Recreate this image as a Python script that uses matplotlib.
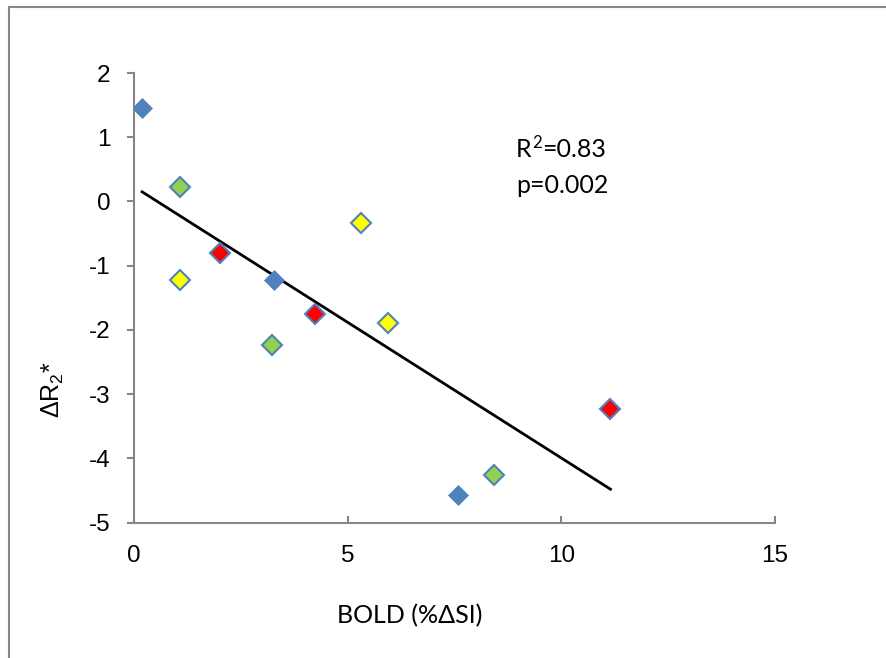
import numpy as np
import matplotlib
matplotlib.use("Agg")
import matplotlib.pyplot as plt
from matplotlib.lines import Line2D

# ---- data ----
blue_x = [0.19, 3.28, 7.59]
blue_y = [1.45, -1.23, -4.57]
green_x = [1.08, 3.23, 8.43]
green_y = [0.22, -2.23, -4.26]
yellow_x = [1.08, 5.32, 5.95]
yellow_y = [-1.23, -0.33, -1.90]
red_x = [2.01, 4.24, 11.15]
red_y = [-0.81, -1.75, -3.23]

x_ticks = [0, 5, 10, 15]
y_ticks = [-5, -4, -3, -2, -1, 0, 1, 2]
r2_text = ("R", "2", "=0.83")
p_text = "p=0.002"
x_label = "BOLD (%\u0394SI)"
y_label = "\u0394R$_2$*"

plt.rcParams['mathtext.fontset'] = 'custom'
plt.rcParams['mathtext.rm'] = 'Liberation Sans'
plt.rcParams['mathtext.it'] = 'Liberation Sans'
plt.rcParams['mathtext.bf'] = 'Liberation Sans'

W, H = 886, 658
fig = plt.figure(figsize=(W / 100, H / 100), dpi=100)
ax = fig.add_axes([134 / W, 1 - 522.5 / H, (775 - 134) / W, (522.5 - 73) / H])

edge = '#4F81BD'
ms = 10.5
ax.plot(blue_x, blue_y, 'D', ms=ms, mfc=edge, mec=edge, mew=0.5, ls='none', zorder=3)
ax.plot(green_x, green_y, 'D', ms=ms, mfc='#92D050', mec=edge, mew=1.5, ls='none', zorder=3)
ax.plot(yellow_x, yellow_y, 'D', ms=ms, mfc='#FFFF00', mec=edge, mew=1.5, ls='none', zorder=3)
ax.plot(red_x, red_y, 'D', ms=ms, mfc='#FF0000', mec=edge, mew=1.5, ls='none', zorder=3)

all_x = np.array(blue_x + green_x + yellow_x + red_x)
all_y = np.array(blue_y + green_y + yellow_y + red_y)
slope, intercept = np.polyfit(all_x, all_y, 1)
lx = np.array([all_x.min(), all_x.max()])
ax.plot(lx, slope * lx + intercept, color='black', lw=2.0, zorder=2)

ax.set_xlim(0, 15)
ax.set_ylim(-5, 2)
ax.set_xticks(x_ticks)
ax.set_yticks(y_ticks)
ax.set_xticklabels([str(t) for t in x_ticks], fontsize=17.5, family='Liberation Sans')
ax.set_yticklabels([str(t) for t in y_ticks], fontsize=17.5, family='Liberation Sans')
for s in ['top', 'right']:
    ax.spines[s].set_visible(False)
for s in ['left', 'bottom']:
    ax.spines[s].set_color('#868686')
    ax.spines[s].set_linewidth(1.5)
ax.tick_params(axis='x', direction='in', length=5, width=1.5, color='#868686', pad=16)
ax.tick_params(axis='y', direction='out', length=5, width=1.5, color='#868686', pad=12)

fig.text(410 / W, 1 - 616 / H, x_label, fontsize=18, family='Lato', ha='center', va='center')
fig.text(53 / W, 1 - 390 / H, y_label, fontsize=18, family='Liberation Sans', rotation=90,
         ha='center', va='center')

# R^2 annotation built from pieces so the superscript is sized like the reference
renderer = fig.canvas.get_renderer()
x0 = 516
base = 157
t1 = fig.text(x0 / W, 1 - base / H, r2_text[0], fontsize=18, family='Lato', ha='left', va='baseline')
w1 = t1.get_window_extent(renderer).width
t2 = fig.text((x0 + w1 + 0.5) / W, 1 - (base - 9) / H, r2_text[1], fontsize=12, family='Lato',
              ha='left', va='baseline')
w2 = t2.get_window_extent(renderer).width
fig.text((x0 + w1 + w2 + 1) / W, 1 - base / H, r2_text[2], fontsize=18, family='Lato', ha='left', va='baseline')
fig.text(x0 / W, 1 - 193 / H, p_text, fontsize=18, family='Lato', ha='left', va='baseline')

# outer chart frame (top and left edges visible)
fig.add_artist(Line2D([8.5 / W, 8.5 / W], [0, 1 - 7 / H], transform=fig.transFigure, color='#888888', lw=1.5))
fig.add_artist(Line2D([8.5 / W, 1], [1 - 7 / H, 1 - 7 / H], transform=fig.transFigure, color='#888888', lw=1.5))

fig.savefig('out.png', dpi=100)
